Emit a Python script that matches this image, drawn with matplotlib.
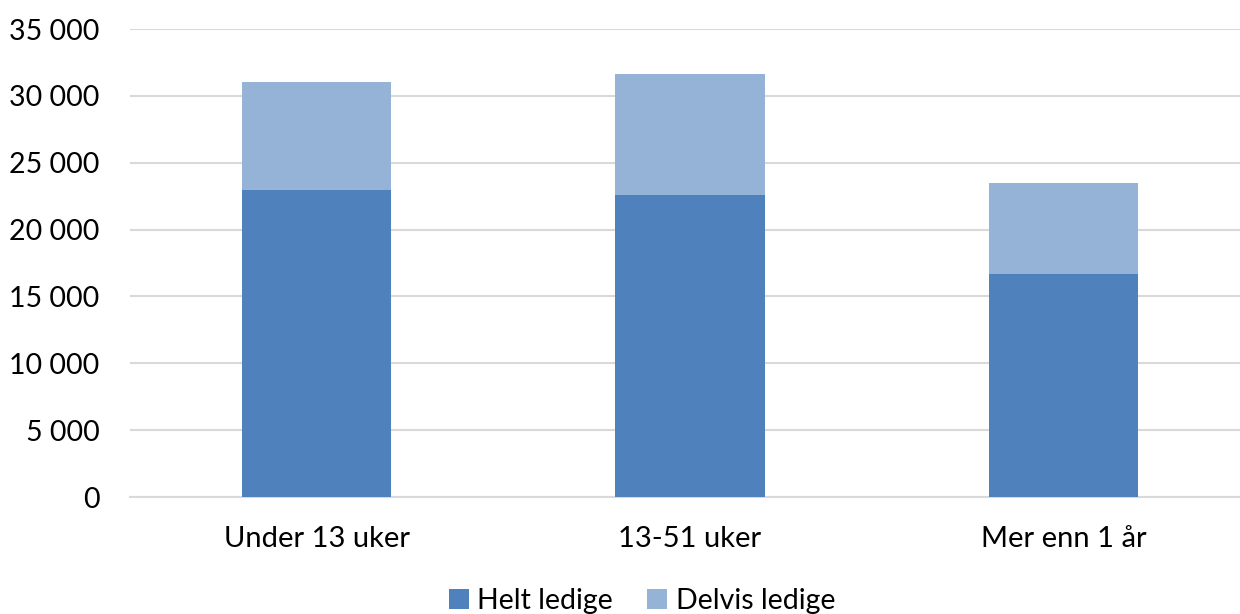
import matplotlib
matplotlib.use("Agg")
import matplotlib.pyplot as plt
import numpy as np
from matplotlib.ticker import FuncFormatter, MultipleLocator

categories = ["Under 13 uker", "13-51 uker", "Mer enn 1 år"]
helt_ledige = [22950, 22550, 16700]
delvis_ledige = [8100, 9050, 6800]
series_names = ["Helt ledige", "Delvis ledige"]
colors = ["#4F81BD", "#95B3D7"]

plt.rcParams['font.family'] = ['Lato', 'DejaVu Sans']

fig = plt.figure(figsize=(12.4, 6.14), dpi=100)
W, H = 1240, 614
ax = fig.add_axes([130 / W, (H - 497) / H, (1240 - 130) / W, (497 - 29) / H])

x = np.arange(len(categories))
b1 = ax.bar(x, helt_ledige, width=0.4, color=colors[0], label=series_names[0], zorder=3)
b2 = ax.bar(x, delvis_ledige, width=0.4, bottom=helt_ledige, color=colors[1],
            label=series_names[1], zorder=3)

ax.set_ylim(0, 35000)
ax.set_xlim(-0.5, 2.5 - 10 / 373.5)
ax.yaxis.set_major_locator(MultipleLocator(5000))
ax.yaxis.set_major_formatter(FuncFormatter(lambda v, p: f"{int(v):,}".replace(",", " ")))
ax.grid(axis='y', color='#D9D9D9', linewidth=1.5, zorder=0)
ax.set_axisbelow(True)
for s in ['top', 'right', 'left']:
    ax.spines[s].set_visible(False)
ax.spines['bottom'].set_color('#D9D9D9')
ax.spines['bottom'].set_linewidth(1.5)
ax.tick_params(axis='both', length=0, colors='black')
ax.tick_params(axis='y', pad=22, labelsize=20.5)
ax.tick_params(axis='x', pad=21, labelsize=21)
ax.set_xticks(x)
ax.set_xticklabels(categories)

fig.legend(handles=[b1, b2], labels=series_names, loc='center', bbox_to_anchor=(642 / W, 1 - 601 / H),
           ncol=2, frameon=False, fontsize=20.5, handlelength=0.7, handleheight=0.7,
           handletextpad=0.3, columnspacing=1.2)

fig.savefig("out.png", dpi=100)
